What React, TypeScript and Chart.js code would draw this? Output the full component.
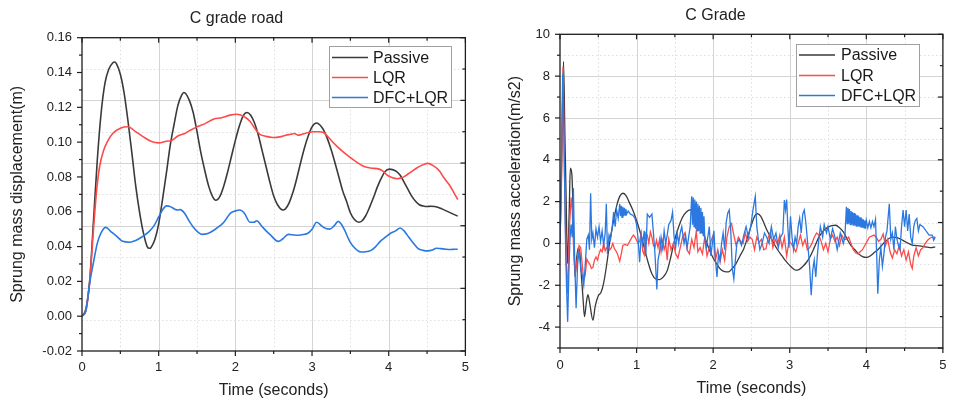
import React, { useEffect, useRef } from 'react';
import { Chart, registerables } from 'chart.js';

Chart.register(...registerables);

type Pt = [number, number];

const FONT = '"Liberation Sans", Arial, Helvetica, sans-serif';

// ---------------- shared labels ----------------
const seriesNames = ['Passive', 'LQR', 'DFC+LQR'];
const seriesColors = ['#3a3a3a', '#ff4a4a', '#2a78e0'];
const xTickValues = [0, 1, 2, 3, 4, 5];
const xTitle = 'Time (seconds)';

// ---------------- left panel: displacement ----------------
const dispTitle = 'C grade road';
const dispYTitle = 'Sprung mass displacement(m)';
const dispTickValues = [-0.02, 0, 0.02, 0.04, 0.06, 0.08, 0.1, 0.12, 0.14, 0.16];
const dispRightTicks = [0.16, 0.142, 0.124, 0.106, 0.088, 0.07, 0.052, 0.034, 0.016, -0.002, -0.02];

const dispPassive: Pt[] = [
  [0, 0], [0.05, 0.004], [0.1, 0.02], [0.15, 0.055], [0.2, 0.09], [0.25, 0.117], [0.3, 0.134], [0.35, 0.142],
  [0.4, 0.1455], [0.425, 0.146], [0.45, 0.145], [0.5, 0.139], [0.55, 0.128], [0.6, 0.112], [0.65, 0.094],
  [0.7, 0.075], [0.75, 0.06], [0.8, 0.048], [0.85, 0.04], [0.88, 0.039], [0.9, 0.0395], [0.95, 0.044],
  [1.0, 0.053], [1.05, 0.067], [1.1, 0.082], [1.15, 0.098], [1.2, 0.11], [1.25, 0.121], [1.3, 0.127],
  [1.33, 0.1285], [1.4, 0.124], [1.45, 0.117], [1.5, 0.106], [1.55, 0.094], [1.6, 0.084], [1.65, 0.075],
  [1.7, 0.069], [1.745, 0.0666], [1.8, 0.069], [1.85, 0.075], [1.9, 0.083], [1.95, 0.092], [2.0, 0.101],
  [2.05, 0.109], [2.1, 0.115], [2.15, 0.117], [2.2, 0.1155], [2.25, 0.111], [2.3, 0.104], [2.35, 0.095],
  [2.4, 0.086], [2.45, 0.077], [2.5, 0.069], [2.55, 0.064], [2.62, 0.061], [2.65, 0.0615], [2.7, 0.065],
  [2.75, 0.071], [2.8, 0.079], [2.85, 0.088], [2.9, 0.0965], [2.95, 0.1035], [3.0, 0.1088], [3.06, 0.111],
  [3.1, 0.11], [3.15, 0.107], [3.2, 0.102], [3.25, 0.0956], [3.3, 0.088], [3.35, 0.08], [3.4, 0.072],
  [3.45, 0.066], [3.5, 0.0594], [3.55, 0.0557], [3.61, 0.054], [3.65, 0.0547], [3.7, 0.0577], [3.75, 0.0625],
  [3.8, 0.068], [3.85, 0.074], [3.9, 0.079], [3.95, 0.083], [4.01, 0.0845], [4.05, 0.0842], [4.1, 0.0832],
  [4.15, 0.081], [4.2, 0.077], [4.25, 0.073], [4.3, 0.069], [4.35, 0.066], [4.4, 0.064], [4.45, 0.0633],
  [4.5, 0.063], [4.55, 0.0632], [4.6, 0.063], [4.65, 0.0625], [4.7, 0.0615], [4.75, 0.0605], [4.8, 0.0595],
  [4.85, 0.0585], [4.9, 0.0575],
];

const dispLqr: Pt[] = [
  [0, 0], [0.05, 0.003], [0.1, 0.02], [0.15, 0.05], [0.19, 0.072], [0.23, 0.086], [0.28, 0.095], [0.34, 0.101],
  [0.4, 0.105], [0.5, 0.108], [0.6, 0.1088], [0.7, 0.106], [0.8, 0.103], [0.9, 0.1005], [1.0, 0.0996],
  [1.1, 0.1005], [1.17, 0.101], [1.25, 0.1035], [1.34, 0.105], [1.42, 0.107], [1.51, 0.109], [1.6, 0.1105],
  [1.72, 0.1133], [1.82, 0.114], [1.93, 0.1155], [2.02, 0.116], [2.1, 0.115], [2.19, 0.112], [2.26, 0.1075],
  [2.32, 0.1045], [2.4, 0.1033], [2.49, 0.1027], [2.58, 0.103], [2.66, 0.104], [2.72, 0.1045], [2.77, 0.105],
  [2.82, 0.104], [2.87, 0.1045], [2.95, 0.1055], [3.02, 0.106], [3.09, 0.106], [3.15, 0.1055], [3.2, 0.1035],
  [3.26, 0.1005], [3.34, 0.097], [3.43, 0.0935], [3.55, 0.0895], [3.68, 0.086], [3.78, 0.085], [3.85, 0.0848],
  [3.92, 0.0835], [3.98, 0.081], [4.05, 0.0795], [4.11, 0.079], [4.17, 0.0795], [4.23, 0.081], [4.3, 0.0832],
  [4.36, 0.085], [4.44, 0.0868], [4.51, 0.0878], [4.58, 0.0865], [4.66, 0.0835], [4.72, 0.0795], [4.79, 0.0755],
  [4.85, 0.071], [4.9, 0.067],
];

const dispDfc: Pt[] = [
  [0, 0], [0.05, 0.003], [0.1, 0.019], [0.15, 0.031], [0.2, 0.042], [0.25, 0.048], [0.31, 0.051], [0.38, 0.0485],
  [0.45, 0.046], [0.53, 0.043], [0.62, 0.0425], [0.7, 0.0435], [0.78, 0.0455], [0.87, 0.0484], [0.94, 0.052],
  [1.0, 0.057], [1.05, 0.061], [1.1, 0.0634], [1.16, 0.0628], [1.21, 0.0615], [1.25, 0.061], [1.28, 0.0612],
  [1.34, 0.059], [1.4, 0.0545], [1.45, 0.0513], [1.52, 0.048], [1.57, 0.047], [1.64, 0.0475], [1.72, 0.0494],
  [1.8, 0.052], [1.85, 0.054], [1.94, 0.0594], [2.0, 0.0605], [2.06, 0.061], [2.12, 0.059], [2.19, 0.054],
  [2.24, 0.054], [2.28, 0.0548], [2.34, 0.052], [2.4, 0.049], [2.45, 0.047], [2.56, 0.043], [2.62, 0.0445],
  [2.69, 0.047], [2.79, 0.0465], [2.87, 0.0468], [2.94, 0.0475], [3.0, 0.05], [3.06, 0.054], [3.11, 0.0525],
  [3.15, 0.051], [3.23, 0.05], [3.29, 0.052], [3.34, 0.0545], [3.38, 0.053], [3.43, 0.049], [3.48, 0.044],
  [3.53, 0.0405], [3.64, 0.0369], [3.7, 0.037], [3.77, 0.0378], [3.83, 0.04], [3.89, 0.043], [3.96, 0.0455],
  [4.02, 0.0475], [4.09, 0.049], [4.15, 0.0507], [4.2, 0.049], [4.26, 0.0455], [4.32, 0.042], [4.38, 0.039],
  [4.45, 0.0378], [4.51, 0.0375], [4.57, 0.038], [4.62, 0.039], [4.68, 0.0388], [4.74, 0.0385], [4.8, 0.0383],
  [4.86, 0.0385], [4.9, 0.0385],
];

// ---------------- right panel: acceleration ----------------
const accTitle = 'C Grade';
const accYTitle = 'Sprung mass acceleration(m/s2)';
const accTickValues = [-4, -2, 0, 2, 4, 6, 8, 10];
const accRightTicks = [10, 8.5, 7, 5.5, 4, 2.5, 1, -0.5, -2, -3.5, -5];

const accPassive: Pt[] = [
  [0, 0], [0.02, 3.5], [0.046, 8.7], [0.065, 5.0], [0.08, 2.2], [0.097, -0.96], [0.12, 1.5], [0.135, 3.6],
  [0.155, 3.3], [0.175, 1.0], [0.195, -1.6], [0.22, -0.6], [0.24, -0.2], [0.26, -0.5], [0.28, -1.6], [0.3, -2.6],
  [0.32, -3.5], [0.345, -2.8], [0.365, -2.45], [0.39, -2.9], [0.43, -3.67], [0.46, -3.0], [0.5, -2.5],
  [0.535, -2.35], [0.57, -1.9], [0.61, -1.0], [0.655, 0.2], [0.7, 1.1], [0.74, 1.8], [0.78, 2.25], [0.82, 2.4],
  [0.86, 2.3], [0.9, 2.0], [0.95, 1.6], [1.0, 1.1], [1.05, 0.5], [1.1, -0.2], [1.15, -0.9], [1.2, -1.45],
  [1.25, -1.7], [1.3, -1.73], [1.35, -1.6], [1.4, -1.3], [1.45, -0.6], [1.5, 0.2], [1.55, 0.8], [1.6, 1.25],
  [1.65, 1.5], [1.7, 1.6], [1.75, 1.45], [1.8, 1.1], [1.85, 0.65], [1.9, 0.2], [1.95, -0.3], [2.0, -0.7],
  [2.05, -1.0], [2.1, -1.25], [2.15, -1.35], [2.2, -1.36], [2.25, -1.2], [2.3, -0.95], [2.35, -0.6],
  [2.4, -0.25], [2.45, 0.3], [2.5, 0.9], [2.55, 1.35], [2.58, 1.42], [2.62, 1.3], [2.66, 1.0], [2.7, 0.65],
  [2.75, 0.3], [2.8, -0.05], [2.85, -0.35], [2.9, -0.6], [2.95, -0.85], [3.0, -1.05], [3.05, -1.22],
  [3.08, -1.28], [3.12, -1.25], [3.17, -1.1], [3.22, -0.9], [3.27, -0.6], [3.32, -0.2], [3.38, 0.3],
  [3.44, 0.6], [3.5, 0.78], [3.55, 0.85], [3.6, 0.87], [3.65, 0.75], [3.7, 0.55], [3.75, 0.2], [3.8, -0.1],
  [3.85, -0.3], [3.9, -0.5], [3.95, -0.63], [4.0, -0.67], [4.05, -0.6], [4.1, -0.45], [4.15, -0.3],
  [4.2, -0.1], [4.25, 0.1], [4.3, 0.25], [4.35, 0.3], [4.4, 0.28], [4.45, 0.2], [4.5, 0.1], [4.55, 0.0],
  [4.6, -0.08], [4.65, -0.1], [4.7, -0.12], [4.75, -0.15], [4.8, -0.18], [4.85, -0.2], [4.9, -0.16],
];

const accLqr: Pt[] = [
  [0, 0], [0.02, 3.0], [0.04, 8.45], [0.06, 3.0], [0.08, -0.8], [0.1, -2.4], [0.12, 0.5], [0.145, 2.2],
  [0.16, 1.6], [0.18, -0.5], [0.2, -1.4], [0.22, -0.9], [0.25, -0.1], [0.27, -0.2], [0.29, -1.0], [0.31, -1.75],
  [0.33, -1.5], [0.35, -0.75], [0.37, -0.9], [0.39, -1.0], [0.41, -1.2], [0.43, -1.15], [0.45, -0.8],
  [0.47, -0.65], [0.49, -0.8], [0.51, -0.5], [0.53, -0.3], [0.55, -0.4], [0.57, 0.0], [0.59, -0.35],
  [0.61, -0.2], [0.63, -0.15], [0.65, -0.3], [0.67, -0.2], [0.69, 0.0], [0.71, -0.25], [0.73, -0.35],
  [0.75, -0.5], [0.78, -0.85], [0.8, -0.5], [0.82, -0.1], [0.85, -0.05], [0.88, -0.1], [0.91, 0.1],
  [0.94, 0.3], [0.96, 0.4], [0.98, 0.3], [1.0, 0.15], [1.02, 0.0], [1.04, 0.1], [1.06, 0.5], [1.08, -0.35],
  [1.1, -0.55], [1.12, 0.5], [1.14, 0.4], [1.16, 0.0], [1.18, 0.55], [1.2, 0.3], [1.22, -0.1], [1.24, -0.2],
  [1.26, 0.15], [1.28, -0.2], [1.3, 0.2], [1.32, -0.4], [1.34, 0.1], [1.36, -0.3], [1.38, 0.0], [1.4, -0.8],
  [1.42, 0.2], [1.45, -0.3], [1.48, 0.0], [1.51, -0.5], [1.54, -0.7], [1.57, -0.2], [1.6, 0.3], [1.63, 0.5],
  [1.66, -0.3], [1.69, -0.5], [1.72, 0.2], [1.75, -0.2], [1.78, 0.6], [1.8, -0.4], [1.83, -0.2], [1.86, -0.5],
  [1.89, 0.3], [1.92, -0.6], [1.95, -0.2], [1.98, 0.2], [2.0, 0.4], [2.03, -0.8], [2.06, -0.3], [2.09, -0.9],
  [2.12, -0.3], [2.15, -0.8], [2.18, 0.3], [2.21, 0.8], [2.24, 0.95], [2.27, 0.4], [2.3, -0.1], [2.33, 0.3],
  [2.36, 0.1], [2.39, 0.0], [2.42, 0.5], [2.45, 0.1], [2.48, 0.3], [2.51, 0.2], [2.54, -0.3], [2.57, 0.3],
  [2.6, 0.05], [2.63, 0.2], [2.66, -0.3], [2.69, -0.25], [2.72, 0.3], [2.75, 0.55], [2.78, -0.2], [2.81, 0.2],
  [2.84, -0.05], [2.87, 0.4], [2.9, -0.2], [2.93, 0.3], [2.96, -0.6], [2.99, 0.1], [3.02, 0.0], [3.05, -0.2],
  [3.08, -0.4], [3.11, 0.0], [3.14, 0.4], [3.17, -0.1], [3.2, 0.2], [3.23, -0.3], [3.26, -0.2], [3.29, 0.0],
  [3.32, 0.3], [3.35, 0.5], [3.38, 0.4], [3.41, 0.1], [3.44, -0.3], [3.47, 0.0], [3.5, -0.4], [3.53, 0.2],
  [3.56, 0.4], [3.59, 0.1], [3.62, 0.3], [3.65, -0.1], [3.68, 0.4], [3.71, 0.2], [3.74, 0.2], [3.77, 0.3],
  [3.8, 0.0], [3.83, -0.3], [3.86, -0.45], [3.89, -0.5], [3.92, -0.4], [3.95, -0.3], [3.98, -0.1], [4.01, 0.1],
  [4.04, 0.3], [4.07, 0.35], [4.1, 0.4], [4.13, 0.3], [4.16, 0.1], [4.19, 0.2], [4.22, 0.45], [4.25, -0.1],
  [4.28, 0.2], [4.31, -0.4], [4.34, -0.7], [4.37, -0.3], [4.4, -0.5], [4.43, -0.1], [4.46, -0.6], [4.49, -0.3],
  [4.52, -0.8], [4.55, -0.4], [4.58, -1.0], [4.6, -1.2], [4.62, -0.6], [4.65, -0.2], [4.68, -0.6], [4.71, -0.3],
  [4.74, -0.2], [4.77, 0.0], [4.8, 0.15], [4.83, 0.25], [4.86, 0.3], [4.9, 0.3],
];

const accDfc: Pt[] = [
  [0, 0], [0.015, 3.0], [0.035, 8.1], [0.05, 5.5], [0.07, 0.5], [0.085, -2.0], [0.1, -3.75], [0.115, -1.5],
  [0.13, 0.2], [0.145, 0.9], [0.16, 0.3], [0.175, 2.65], [0.19, -0.5], [0.21, -3.1], [0.23, -1.0], [0.25, -0.3],
  [0.27, -1.2], [0.29, -1.5], [0.31, -2.0], [0.33, -1.0], [0.35, 0.2], [0.37, 0.4], [0.385, -0.3], [0.4, 2.4],
  [0.415, 0.2], [0.43, 0.5], [0.45, -0.2], [0.47, 0.7], [0.49, 0.3], [0.51, 0.8], [0.53, 0.1], [0.55, 0.6],
  [0.57, -0.1], [0.59, 0.5], [0.605, 1.9], [0.62, -0.5], [0.64, 0.4], [0.66, 0.2], [0.68, 0.7], [0.7, 1.5],
  [0.72, 0.8], [0.74, 1.6], [0.76, 1.2], [0.78, 1.9], [0.79, 1.3], [0.8, 1.8], [0.81, 1.25], [0.82, 1.75],
  [0.83, 1.3], [0.84, 1.7], [0.85, 1.35], [0.86, 1.65], [0.87, 1.4], [0.89, 1.55], [0.92, 1.4], [0.95, 1.35],
  [0.98, 1.2], [1.0, 0.9], [1.02, 0.2], [1.04, -0.9], [1.06, 0.4], [1.08, 0.0], [1.1, 0.6], [1.12, -0.6],
  [1.14, 1.4], [1.17, 1.25], [1.2, 1.4], [1.22, 0.5], [1.24, -0.5], [1.265, -2.2], [1.28, -0.8], [1.3, -0.4],
  [1.32, 0.3], [1.34, -0.2], [1.36, 0.6], [1.38, 0.0], [1.4, 0.4], [1.42, 0.9], [1.45, 1.1], [1.47, 1.5],
  [1.49, 0.3], [1.51, -0.2], [1.53, 0.5], [1.55, 0.0], [1.57, 0.5], [1.59, 0.8], [1.62, 0.0], [1.64, 0.4],
  [1.66, -0.2], [1.68, 0.3], [1.7, 0.8], [1.72, 2.25], [1.73, 0.9], [1.74, 2.2], [1.75, 0.8], [1.76, 2.1],
  [1.77, 0.7], [1.78, 2.0], [1.79, 0.6], [1.8, 1.9], [1.81, 0.6], [1.82, 1.8], [1.83, 0.5], [1.84, 1.7],
  [1.85, 0.5], [1.86, 1.5], [1.87, 0.4], [1.88, 1.3], [1.89, 0.3], [1.91, -0.2], [1.93, 0.3], [1.95, 0.8],
  [1.97, -0.6], [1.99, 0.0], [2.01, 0.6], [2.03, -0.8], [2.05, -1.6], [2.07, -0.5], [2.09, -0.8], [2.11, 0.0],
  [2.13, 0.5], [2.15, -0.3], [2.17, 1.0], [2.19, 1.45], [2.21, 1.6], [2.23, 0.6], [2.25, -1.2], [2.27, -1.7],
  [2.29, -0.8], [2.31, 0.0], [2.34, 0.2], [2.37, -0.1], [2.4, 0.4], [2.43, 0.8], [2.46, 0.3], [2.49, 0.8],
  [2.52, 1.6], [2.55, 2.25], [2.57, 0.8], [2.59, 0.2], [2.61, -0.3], [2.64, 0.0], [2.67, 0.5], [2.7, 0.3],
  [2.73, 0.0], [2.76, 0.8], [2.79, 0.2], [2.82, 0.5], [2.85, -0.2], [2.88, 0.3], [2.91, 0.5], [2.93, 2.07],
  [2.945, 1.6], [2.96, 2.1], [2.975, 0.8], [2.99, -0.2], [3.01, 1.3], [3.03, 0.3], [3.05, -0.3], [3.07, 0.3],
  [3.09, 0.0], [3.11, 0.8], [3.13, 1.2], [3.15, 0.5], [3.17, 1.4], [3.19, 1.6], [3.21, 1.0], [3.23, 0.2],
  [3.26, -1.1], [3.28, -2.48], [3.3, -1.3], [3.32, -0.8], [3.34, -1.6], [3.36, -0.6], [3.38, 0.2], [3.4, 0.8],
  [3.43, 0.3], [3.45, 0.9], [3.48, 0.5], [3.5, 0.8], [3.53, 0.2], [3.56, 0.7], [3.59, 0.3], [3.62, -0.3],
  [3.66, 0.5], [3.7, 0.0], [3.72, 0.3], [3.74, 1.75], [3.75, 0.95], [3.76, 1.7], [3.77, 0.95], [3.78, 1.65],
  [3.79, 0.9], [3.8, 1.55], [3.81, 0.9], [3.82, 1.5], [3.83, 0.85], [3.84, 1.45], [3.85, 0.85], [3.86, 1.4],
  [3.87, 0.8], [3.88, 1.35], [3.89, 0.8], [3.9, 1.3], [3.91, 0.8], [3.92, 1.25], [3.93, 0.75], [3.94, 1.2],
  [3.95, 0.75], [3.96, 1.15], [3.97, 0.75], [3.98, 1.1], [3.99, 0.7], [4.0, 1.1], [4.02, 0.75], [4.04, 1.05],
  [4.06, 0.75], [4.08, 1.05], [4.1, 0.8], [4.12, 1.15], [4.135, -0.5], [4.15, -2.4], [4.17, -0.8], [4.19, -0.2],
  [4.21, -1.1], [4.23, -0.5], [4.25, 0.3], [4.27, 0.6], [4.3, 1.9], [4.32, 0.2], [4.34, 0.5], [4.36, -0.3],
  [4.38, 0.8], [4.4, 0.2], [4.42, -0.1], [4.44, -0.3], [4.46, 0.8], [4.48, 1.6], [4.5, 0.8], [4.52, 1.6],
  [4.54, 0.6], [4.56, 1.4], [4.58, 0.3], [4.6, 0.0], [4.62, 0.8], [4.64, 1.1], [4.66, 1.2], [4.68, 0.6],
  [4.7, 0.9], [4.74, 0.8], [4.78, 0.6], [4.82, 0.4], [4.86, 0.4], [4.88, 0.15], [4.9, 0.3],
];

// ---------------- chart building ----------------
interface LegendSpec { x: number; y: number; w: number; h: number; lineX0: number; lineX1: number; textX: number; rows: number[] }

interface PanelSpec {
  title: string;
  titlePad: { top: number; bottom: number };
  yTitle: string;
  yTitlePadTop: number;
  xTitlePadBottom: number;
  yMin: number;
  yMax: number;
  yTicks: number[];
  yMajor: number;
  yMinor: number;
  decimals: number;
  rightTicks: number[];
  gridRows: { v: number; solid: boolean }[];
  series: Pt[][];
  smooth: boolean[];
  lineWidth: number;
  padRight: number;
  xAxisHeight: number;
  xTickPad: number;
  legend: LegendSpec;
}

function seg(ctx: CanvasRenderingContext2D, x1: number, y1: number, x2: number, y2: number) {
  ctx.beginPath();
  ctx.moveTo(x1, y1);
  ctx.lineTo(x2, y2);
  ctx.stroke();
}

function makePlugin(spec: PanelSpec) {
  return {
    id: 'frameGridLegend',
    beforeDatasetsDraw(chart: any) {
      const { ctx, chartArea: a, scales } = chart;
      const xs = scales.x;
      const ys = scales.y;
      ctx.save();
      ctx.lineWidth = 1;
      for (let i = 1; i < 10; i++) {
        const px = Math.round(xs.getPixelForValue(i * 0.5)) + 0.5;
        const solid = i % 2 === 0;
        ctx.strokeStyle = solid ? '#d4d4d4' : '#dedede';
        ctx.setLineDash(solid ? [] : [1.5, 2.5]);
        seg(ctx, px, a.top, px, a.bottom);
      }
      spec.gridRows.forEach((r) => {
        if (r.v <= spec.yMin || r.v >= spec.yMax) return;
        const py = Math.round(ys.getPixelForValue(r.v)) + 0.5;
        ctx.strokeStyle = r.solid ? '#d4d4d4' : '#dedede';
        ctx.setLineDash(r.solid ? [] : [1.5, 2.5]);
        seg(ctx, a.left, py, a.right, py);
      });
      ctx.restore();
    },
    afterDatasetsDraw(chart: any) {
      const { ctx, chartArea: a, scales } = chart;
      const xs = scales.x;
      const ys = scales.y;
      ctx.save();
      ctx.setLineDash([]);
      ctx.strokeStyle = '#1e1e1e';
      ctx.lineWidth = 1.3;
      ctx.strokeRect(a.left, a.top, a.right - a.left, a.bottom - a.top);
      ctx.lineWidth = 1.2;
      for (let i = 0; i <= 10; i++) {
        const px = xs.getPixelForValue(i * 0.5);
        const len = i % 2 === 0 ? 5 : 3;
        seg(ctx, px, a.bottom, px, a.bottom + len);
        seg(ctx, px, a.top, px, a.top + len);
      }
      const n = Math.round((spec.yMax - spec.yMin) / spec.yMinor);
      for (let i = 0; i <= n; i++) {
        const v = spec.yMin + i * spec.yMinor;
        const r = v / spec.yMajor;
        const major = Math.abs(r - Math.round(r)) < 1e-6;
        const py = ys.getPixelForValue(v);
        seg(ctx, a.left - (major ? 5 : 3), py, a.left, py);
      }
      spec.rightTicks.forEach((v, i) => {
        const py = ys.getPixelForValue(v);
        seg(ctx, a.right - (i % 2 === 0 ? 5 : 3), py, a.right, py);
      });
      // legend
      const L = spec.legend;
      ctx.fillStyle = '#ffffff';
      ctx.fillRect(L.x, L.y, L.w, L.h);
      ctx.strokeStyle = '#a0a0a0';
      ctx.lineWidth = 1;
      ctx.strokeRect(L.x + 0.5, L.y + 0.5, L.w, L.h);
      ctx.font = `16px ${FONT}`;
      ctx.textAlign = 'left';
      ctx.textBaseline = 'middle';
      seriesNames.forEach((name, i) => {
        const y = L.rows[i];
        ctx.strokeStyle = seriesColors[i];
        ctx.lineWidth = 1.6;
        seg(ctx, L.lineX0, y, L.lineX1, y);
        ctx.fillStyle = '#1a1a1a';
        ctx.fillText(name, L.textX, y + 1);
      });
      ctx.restore();
    },
  };
}

function makeConfig(spec: PanelSpec): any {
  return {
    type: 'line',
    data: {
      datasets: spec.series.map((pts, i) => ({
        label: seriesNames[i],
        data: pts.map(([x, y]) => ({ x, y })),
        borderColor: seriesColors[i],
        backgroundColor: seriesColors[i],
        borderWidth: spec.lineWidth,
        pointRadius: 0,
        pointHoverRadius: 0,
        fill: false,
        tension: 0,
        cubicInterpolationMode: spec.smooth[i] ? 'monotone' : 'default',
        order: 3 - i,
      })),
    },
    options: {
      responsive: false,
      animation: false,
      events: [],
      layout: { padding: { left: 0, right: spec.padRight, top: 0, bottom: 0 } },
      plugins: {
        legend: { display: false },
        tooltip: { enabled: false },
        title: {
          display: true,
          text: spec.title,
          color: '#222',
          font: { family: FONT, size: 16, weight: 'normal' },
          padding: spec.titlePad,
        },
      },
      scales: {
        x: {
          type: 'linear',
          min: 0,
          max: 5,
          afterBuildTicks: (s: any) => { s.ticks = xTickValues.map((value) => ({ value })); },
          afterFit: (s: any) => { s.height = spec.xAxisHeight; },
          grid: { display: false, drawTicks: false },
          border: { display: false },
          ticks: {
            color: '#222',
            font: { family: FONT, size: 13 },
            padding: spec.xTickPad,
            maxRotation: 0,
            callback: (v: any) => String(v),
          },
          title: {
            display: true,
            text: xTitle,
            color: '#222',
            font: { family: FONT, size: 16 },
            padding: { top: 0, bottom: spec.xTitlePadBottom },
          },
        },
        y: {
          type: 'linear',
          min: spec.yMin,
          max: spec.yMax,
          afterBuildTicks: (s: any) => { s.ticks = spec.yTicks.map((value) => ({ value })); },
          afterFit: (s: any) => { s.width = 82; },
          grid: { display: false, drawTicks: false },
          border: { display: false },
          ticks: {
            color: '#222',
            font: { family: FONT, size: 13 },
            padding: 10,
            callback: (v: any) => Number(v).toFixed(spec.decimals),
          },
          title: {
            display: true,
            text: spec.yTitle,
            color: '#222',
            font: { family: FONT, size: 16 },
            padding: { top: spec.yTitlePadTop, bottom: 0 },
          },
        },
      },
    },
    plugins: [makePlugin(spec)],
  };
}

const leftSpec: PanelSpec = {
  title: dispTitle,
  titlePad: { top: 9.4, bottom: 9.1 },
  yTitle: dispYTitle,
  yTitlePadTop: 8.4,
  xTitlePadBottom: 4.4,
  yMin: -0.02,
  yMax: 0.16,
  yTicks: dispTickValues,
  yMajor: 0.02,
  yMinor: 0.01,
  decimals: 2,
  rightTicks: dispRightTicks,
  gridRows: dispRightTicks.map((v, i) => ({ v, solid: i % 2 === 0 })),
  series: [dispPassive, dispLqr, dispDfc],
  smooth: [true, true, true],
  lineWidth: 1.6,
  padRight: 5,
  xAxisHeight: 54,
  xTickPad: 9,
  legend: { x: 329, y: 46, w: 122, h: 61, lineX0: 332, lineX1: 368, textX: 373, rows: [57.5, 77.5, 97.5] },
};

const rightSpec: PanelSpec = {
  title: accTitle,
  titlePad: { top: 6.4, bottom: 8.7 },
  yTitle: accYTitle,
  yTitlePadTop: 28,
  xTitlePadBottom: 6.4,
  yMin: -5,
  yMax: 10,
  yTicks: accTickValues,
  yMajor: 2,
  yMinor: 1,
  decimals: 0,
  rightTicks: accRightTicks,
  gridRows: [-4, -3, -2, -1, 0, 1, 2, 3, 4, 5, 6, 7, 8, 9].map((v) => ({ v, solid: v % 2 === 0 })),
  series: [accPassive, accLqr, accDfc],
  smooth: [true, false, false],
  lineWidth: 1.3,
  padRight: 3,
  xAxisHeight: 57,
  xTickPad: 9.5,
  legend: { x: 318, y: 44, w: 123, h: 62, lineX0: 321, lineX1: 357, textX: 363, rows: [55, 75.5, 95.5] },
};

function Panel({ spec, left }: { spec: PanelSpec; left: number }) {
  const ref = useRef<HTMLCanvasElement>(null);
  useEffect(() => {
    const chart = new Chart(ref.current as HTMLCanvasElement, makeConfig(spec));
    return () => chart.destroy();
  }, [spec]);
  return (
    <canvas
      ref={ref}
      width={478}
      height={405}
      style={{ position: 'absolute', left, top: 0, width: 478, height: 405 }}
    />
  );
}

export default function App() {
  return (
    <div style={{ position: 'absolute', left: 0, top: 0, width: 956, height: 405, background: '#ffffff', overflow: 'hidden' }}>
      <Panel spec={leftSpec} left={0} />
      <Panel spec={rightSpec} left={478} />
    </div>
  );
}
